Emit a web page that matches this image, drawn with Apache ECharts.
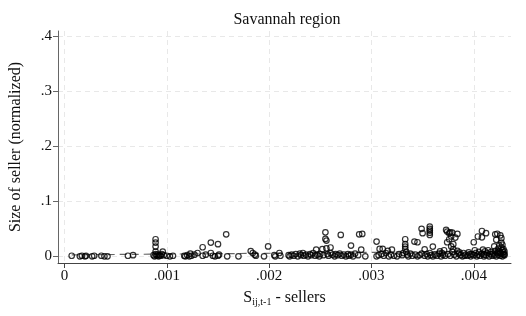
<!DOCTYPE html>
<html>
<head>
<meta charset="utf-8">
<script src="https://cdn.jsdelivr.net/npm/echarts@6/dist/echarts.min.js"></script>
<style>html,body{margin:0;padding:0;background:#fff}#c{width:526px;height:316px}</style>
</head>
<body>
<div id="c"></div>
<script>
var chartTitle = 'Savannah region';
var xTicks = [0, 0.001, 0.002, 0.003, 0.004];
var yTicks = [0, 0.1, 0.2, 0.3, 0.4];

// [S_ij,t-1 share of sellers, size of seller (normalized)]
var pointsLow = [
 [0.00007,0.001],[0.00015,0.000],[0.00017,0.001],[0.0002,0.000],[0.00021,0.001],[0.00027,0.000],[0.00029,0.001],
 [0.00036,0.001],[0.00039,0.000],[0.00042,0.000],[0.00062,0.001],[0.00067,0.002],
 [0.00087,0.002],[0.00088,0.000],[0.00089,0.004],[0.00089,0.0085],[0.00089,0.0176],[0.00089,0.025],[0.00089,0.031],
 [0.0009,0.001],[0.00091,0.003],[0.00092,0.000],[0.00093,0.002],[0.00094,0.001],[0.00095,0.004],[0.00096,0.0085],[0.00097,0.002],
 [0.001,0.001],[0.00103,0.000],[0.00106,0.001],
 [0.00117,0.001],[0.00118,0.000],[0.0012,0.002],[0.00122,0.000],[0.00123,0.005],[0.00124,0.001],[0.00127,0.003],[0.0013,0.006],
 [0.00135,0.001],[0.00135,0.0164],[0.00138,0.003],[0.00143,0.006],[0.00143,0.025],[0.00145,0.001],[0.00147,0.000],[0.0015,0.022],
 [0.0015,0.001],[0.00151,0.003],[0.00158,0.040],[0.00159,0.000],[0.0017,0.000],
 [0.00182,0.0095],[0.00184,0.006],[0.00186,0.003],[0.00187,0.001],[0.00195,0.000],[0.00199,0.018],[0.00205,0.002],[0.00206,0.000],
 [0.0021,0.006],[0.00211,0.001]
];
var pointsMid = [
 [0.00219,0.002],[0.0022,0.000],[0.00222,0.003],[0.00224,0.001],[0.00226,0.004],[0.00228,0.000],[0.0023,0.005],[0.00231,0.002],
 [0.00233,0.006],[0.00234,0.001],[0.00236,0.003],[0.00238,0.000],[0.0024,0.004],[0.00241,0.002],[0.00243,0.006],[0.00245,0.001],
 [0.00246,0.012],[0.00247,0.003],[0.00249,0.000],[0.0025,0.004],[0.00252,0.013],[0.00253,0.002],
 [0.00255,0.0436],[0.00255,0.0315],[0.00256,0.0285],[0.00256,0.0145],[0.00257,0.004],[0.00258,0.001],[0.0026,0.016],[0.0026,0.006],
 [0.00262,0.003],[0.00264,0.000],[0.00265,0.004],[0.00267,0.002],[0.00269,0.005],[0.0027,0.0388],[0.00271,0.001],[0.00273,0.003],
 [0.00275,0.000],[0.00277,0.004],[0.00278,0.001],[0.0028,0.0194],[0.0028,0.003],[0.00282,0.000],[0.00284,0.005],[0.00287,0.002],
 [0.00288,0.040],[0.00291,0.0406],[0.0029,0.012],[0.00294,0.000],
 [0.00305,0.0267],[0.00305,0.000],[0.00307,0.002],[0.00308,0.0133],[0.0031,0.004],[0.00311,0.0133],[0.00312,0.001],[0.00314,0.006],
 [0.00316,0.010],[0.00317,0.000],[0.00319,0.003],[0.0032,0.012],[0.00322,0.001],[0.00325,0.000],[0.00327,0.004],[0.0033,0.002],
 [0.00331,0.006],[0.00333,0.031],[0.00333,0.022],[0.00333,0.0176],[0.00333,0.0133],[0.00334,0.008],[0.00335,0.003],[0.00336,0.000],
 [0.00338,0.005],[0.0034,0.001],[0.00342,0.0267],[0.00343,0.003],[0.00345,0.0255],[0.00345,0.000],[0.00347,0.002],[0.00349,0.050],
 [0.0035,0.042],[0.00349,0.005]
];
var pointsHigh = [
 [0.00352,0.0127],[0.00352,0.001],[0.00354,0.004],[0.00355,0.000],[0.00357,0.054],[0.00357,0.050],[0.00357,0.0467],[0.00357,0.043],
 [0.00357,0.0388],[0.00357,0.006],[0.00358,0.002],[0.0036,0.0176],[0.0036,0.000],[0.00362,0.003],[0.00364,0.001],[0.00366,0.005],
 [0.00367,0.009],[0.00368,0.000],[0.0037,0.003],[0.00371,0.011],[0.00369,0.006],[0.00372,0.001],
 [0.00373,0.0479],[0.00374,0.045],[0.00374,0.0255],[0.00375,0.004],[0.00376,0.042],[0.00376,0.031],[0.00377,0.0436],[0.00377,0.001],
 [0.00378,0.036],[0.00378,0.018],[0.00379,0.043],[0.00379,0.008],[0.0038,0.022],[0.0038,0.013],[0.00381,0.003],[0.00382,0.034],
 [0.00383,0.000],[0.00384,0.0406],[0.00384,0.010],[0.00385,0.005],[0.00387,0.002],[0.00389,0.000],[0.0039,0.006],[0.00392,0.003],
 [0.00394,0.001],[0.00395,0.007],[0.00397,0.000],[0.00398,0.004],[0.00386,0.007],[0.00391,0.001],[0.00396,0.003],
 [0.004,0.0255],[0.004,0.002],[0.00401,0.011],[0.00402,0.006],[0.00403,0.000],[0.00404,0.036],[0.00404,0.003],[0.00405,0.008],
 [0.00406,0.001],[0.00408,0.046],[0.00408,0.0345],[0.00408,0.005],[0.00409,0.012],[0.0041,0.000],[0.0041,0.003],[0.00411,0.009],
 [0.00412,0.042],[0.00412,0.002],[0.00413,0.006],[0.00414,0.011],[0.00415,0.000],[0.00416,0.004],[0.00417,0.008],[0.00418,0.001],
 [0.00419,0.005],[0.0042,0.018],[0.0042,0.002],[0.00421,0.040],[0.00421,0.010],[0.00422,0.000],[0.00422,0.030],[0.00423,0.006],
 [0.00423,0.041],[0.00424,0.003],[0.00424,0.014],[0.00425,0.020],[0.00425,0.009],[0.00426,0.038],[0.00426,0.001],[0.00427,0.033],
 [0.00427,0.025],[0.00427,0.016],[0.00427,0.005],[0.00428,0.011],[0.00428,0.000],[0.00429,0.003],[0.00429,0.007],[0.0043,0.002],
 [0.00428,0.021],[0.00429,0.013],[0.0043,0.009],[0.0043,0.004],[0.00426,0.006],[0.00424,0.008]
];
var fitX = [0.00007, 0.0043];
var fitY = [0.0026, 0.0090];

function fmt(v){
  if (Math.abs(v) < 1e-12) return '0';
  return String(+v.toFixed(4)).replace(/^0\./, '.');
}
var allPoints = pointsLow.concat(pointsMid, pointsHigh);
var fitData = fitX.map(function(x, i){ return [x, fitY[i]]; });
var serif = '"Liberation Serif", "DejaVu Serif", serif';

var chart = echarts.init(document.getElementById('c'), null, {renderer: 'canvas'});
chart.setOption({
  animation: false,
  backgroundColor: '#fff',
  title: {
    text: chartTitle, left: 282, top: 7, textAlign: 'center',
    textStyle: {fontFamily: serif, fontSize: 16, fontWeight: 'normal', color: '#111'}
  },
  grid: {left: 53, right: 15, top: 31, bottom: 53},
  xAxis: {
    type: 'value', min: -0.0000638, max: 0.004364,
    name: '{s|S}{sub|ij,t-1}{s| - sellers}', nameLocation: 'middle', nameGap: 25,
    nameTextStyle: {
      fontFamily: serif, color: '#111',
      rich: {
        s: {fontFamily: serif, fontSize: 16, color: '#111'},
        sub: {fontFamily: serif, fontSize: 10, color: '#111', padding: [9, 0, 0, 0]}
      }
    },
    axisLine: {onZero: false, lineStyle: {color: '#444', width: 1}},
    axisTick: {show: true, customValues: xTicks, length: 5, lineStyle: {color: '#444'}},
    axisLabel: {customValues: xTicks, formatter: fmt, fontFamily: serif, fontSize: 15, color: '#111', margin: 6},
    splitLine: {show: true, lineStyle: {color: '#e8e8e8', type: [5, 4], width: 1}}
  },
  yAxis: {
    type: 'value', min: -0.0122, max: 0.4096,
    name: 'Size of seller (normalized)', nameLocation: 'middle', nameGap: 34,
    nameTextStyle: {fontFamily: serif, fontSize: 16, color: '#111'},
    axisLine: {show: true, onZero: false, lineStyle: {color: '#666', width: 1}},
    axisTick: {show: true, customValues: yTicks, length: 5, lineStyle: {color: '#666'}},
    axisLabel: {customValues: yTicks, formatter: fmt, fontFamily: serif, fontSize: 15, color: '#111', margin: 6},
    splitLine: {show: true, lineStyle: {color: '#e8e8e8', type: [5, 4], width: 1}}
  },
  series: [
    {
      type: 'scatter', data: allPoints, symbol: 'circle', symbolSize: 5.5,
      itemStyle: {color: 'rgba(0,0,0,0)', borderColor: '#000', borderWidth: 1.2}
    },
    {
      type: 'line', data: fitData, symbol: 'none', z: 1,
      lineStyle: {color: '#666', width: 1.2, type: [7, 5]}
    }
  ]
});
</script>
</body>
</html>
